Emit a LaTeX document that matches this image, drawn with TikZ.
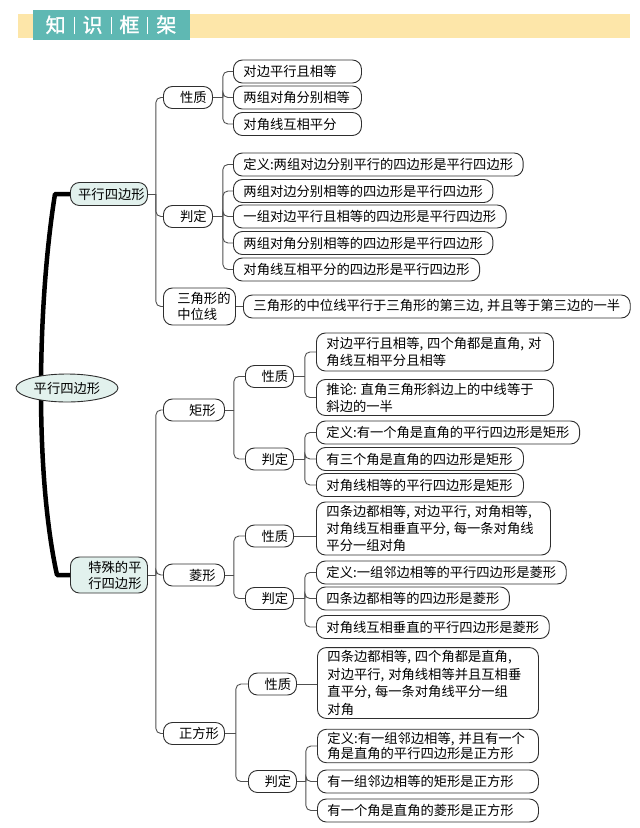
\documentclass[tikz,border=0pt]{standalone}
\usepackage{fontspec}
\newfontfamily\cjk{Noto Sans CJK SC}
\newfontfamily\cjkb[FakeBold=1.5]{Noto Sans CJK SC}
\usetikzlibrary{calc,shapes.geometric}
\definecolor{teala}{HTML}{5FB8B3}
\definecolor{yel}{HTML}{FDE6A9}
\definecolor{nodefill}{HTML}{E2F1ED}
\definecolor{edgec}{HTML}{2E2E2E}
\definecolor{linec}{HTML}{505050}
\newcommand\dcm{,\hspace{0.3em}}
\newcommand\mmbranch[3]{%
  \draw[conn] (#1.east) -- ++(#2,0);
  \foreach \c in {#3} {\draw[conn, rounded corners=5pt] ($(#1.east)+(#2,0)$) |- (\c.west);}
}
\begin{document}
\begin{tikzpicture}[x=1pt,y=-1pt,
  base/.style={draw=edgec, line width=0.9pt, font=\cjk\fontsize{13.3}{17}\selectfont, inner sep=0pt, rounded corners=9pt, fill=white, anchor=west},
  box/.style={base, inner xsep=10pt, minimum height=23pt},
  gbox/.style={base, inner xsep=10pt, minimum height=23pt, text width=#1, align=left},
  mbox/.style={base, inner xsep=10pt, inner ysep=3pt, align=left, text width=#1},
  lab/.style={base, minimum height=22pt, minimum width=#1, align=left},
  conn/.style={draw=linec, line width=0.9pt},
  hdr/.style={font=\cjkb\fontsize{20}{20}\selectfont, text=white, inner sep=0pt}
]
\useasboundingbox (0,0) rectangle (640,828);
% header
\fill[yel] (18,14) rectangle (630,38);
\fill[teala] (33,10) rectangle (190,40);
\node[hdr] (title) at (111,25) {知\hspace{8pt}\rule[-2pt]{0.9pt}{17pt}\hspace{8pt}识\hspace{8pt}\rule[-2pt]{0.9pt}{17pt}\hspace{8pt}框\hspace{8pt}\rule[-2pt]{0.9pt}{17pt}\hspace{8pt}架};

% ---- top: parallelogram
\node[lab=77pt, fill=nodefill, minimum height=23pt] (pa) at (70,194) {\hspace{5pt}平行四边形};
\node[lab=49pt] (pxz) at (163,97.5) {\hspace{11pt}性质};
\node[gbox=108pt] (pa1) at (233,71.5) {对边平行且相等};
\node[gbox=108pt] (pa2) at (233,97.5) {两组对角分别相等};
\node[gbox=108pt] (pa3) at (233,124) {对角线互相平分};

\node[lab=49pt] (ppd) at (163,216.5) {\hspace{11pt}判定};
\node[box] (pb1) at (233,164.5) {定义:两组对边分别平行的四边形是平行四边形};
\node[box] (pb2) at (233,191) {两组对边分别相等的四边形是平行四边形};
\node[box] (pb3) at (233,216.5) {一组对边平行且相等的四边形是平行四边形};
\node[box] (pb4) at (233,243) {两组对角分别相等的四边形是平行四边形};
\node[box] (pb5) at (233,269.5) {对角线互相平分的四边形是平行四边形};

\node[lab=72pt, minimum height=37pt, font=\cjk\fontsize{13.3}{15.5}\selectfont] (ptri) at (163,306.5) {\hspace{9pt}三角形的\\\hspace{9pt}中位线};
\node[box] (pc1) at (243,306.5) {三角形的中位线平行于三角形的第三边\dcm 并且等于第三边的一半};

% ---- bottom: special parallelograms
\node[lab=77pt, fill=nodefill, minimum height=36pt, font=\cjk\fontsize{13.3}{16}\selectfont] (sp) at (70,575) {\hspace{12pt}特殊的平\\\hspace{12pt}行四边形};

\node[lab=61pt] (jx) at (163,410) {\hspace{17pt}矩形};
\node[lab=61pt] (lx) at (163,575) {\hspace{17pt}菱形};
\node[lab=61pt] (zf) at (163,733.5) {\hspace{10pt}正方形};

% rectangle
\node[lab=48pt] (jxz) at (245,376.5) {\hspace{11pt}性质};
\node[lab=48pt] (jpd) at (245,459) {\hspace{11pt}判定};
\node[mbox=217pt, minimum height=38pt] (jx1) at (316,352) {对边平行且相等\dcm 四个角都是直角\dcm 对\\角线互相平分且相等};
\node[mbox=217pt, minimum height=36pt] (jx2) at (316,397.5) {推论:\hspace{0.3em}直角三角形斜边上的中线等于\\斜边的一半};
\node[box] (jp1) at (316,432.5) {定义:有一个角是直角的平行四边形是矩形};
\node[gbox=187pt] (jp2) at (316,459) {有三个角是直角的四边形是矩形};
\node[gbox=187pt] (jp3) at (316,485) {对角线相等的平行四边形是矩形};

% rhombus
\node[lab=48pt] (lxz) at (245,536) {\hspace{11pt}性质};
\node[lab=48pt] (lpd) at (245,598.5) {\hspace{11pt}判定};
\node[mbox=214pt, minimum height=53pt] (lx1) at (316,528.5) {四条边都相等\dcm 对边平行\dcm 对角相等,\\对角线互相垂直平分\dcm 每一条对角线\\平分一组对角};
\node[box] (lp1) at (316,572.5) {定义:一组邻边相等的平行四边形是菱形};
\node[box] (lp2) at (316,598.5) {四条边都相等的四边形是菱形};
\node[box] (lp3) at (316,627) {对角线互相垂直的平行四边形是菱形};

% square
\node[lab=48pt] (zxz) at (248,684) {\hspace{11pt}性质};
\node[lab=48pt] (zpd) at (248,781.5) {\hspace{11pt}判定};
\node[mbox=201pt, minimum height=70pt, font=\cjk\fontsize{13.3}{17.5}\selectfont] (zx1) at (317,683) {四条边都相等\dcm 四个角都是直角,\\对边平行\dcm 对角线相等并且互相垂\\直平分\dcm 每一条对角线平分一组\\对角};
\node[mbox=201pt, minimum height=32pt, font=\cjk\fontsize{13.3}{15}\selectfont] (zp1) at (317,746) {定义:有一组邻边相等\dcm 并且有一个\\角是直角的平行四边形是正方形};
\node[gbox=201pt] (zp2) at (317,781.5) {有一组邻边相等的矩形是正方形};
\node[gbox=201pt] (zp3) at (317,810.5) {有一个角是直角的菱形是正方形};

% ---- connectors
\mmbranch{pa}{8}{pxz,ppd,ptri}
\mmbranch{pxz}{10}{pa1,pa2,pa3}
\mmbranch{ppd}{10}{pb1,pb2,pb3,pb4,pb5}
\draw[conn] (ptri.east) -- (pc1.west);

\mmbranch{sp}{8}{jx,lx,zf}
\mmbranch{jx}{9}{jxz,jpd}
\mmbranch{jxz}{11}{jx1,jx2}
\mmbranch{jpd}{11}{jp1,jp2,jp3}
\mmbranch{lx}{9}{lxz,lpd}
\draw[conn] (lxz.east) -- (lxz.east -| lx1.west);
\mmbranch{lpd}{11}{lp1,lp2,lp3}
\mmbranch{zf}{11}{zxz,zpd}
\draw[conn] (zxz.east) -- (zxz.east -| zx1.west);
\mmbranch{zpd}{9}{zp1,zp2,zp3}

% thick main curve
\draw[line width=4.5pt, line join=round, black] (pa.west) -- ++(-15,0) .. controls (38,300) and (34,470) .. ($(sp.west)+(-13,0)$) -- (sp.west);

% root
\node[ellipse, draw=edgec, line width=0.9pt, fill=nodefill, minimum width=102pt, minimum height=28pt, inner sep=0pt, font=\cjk\fontsize{13.3}{17}\selectfont] (root) at (67,388) {平行四边形};
\end{tikzpicture}
\end{document}
